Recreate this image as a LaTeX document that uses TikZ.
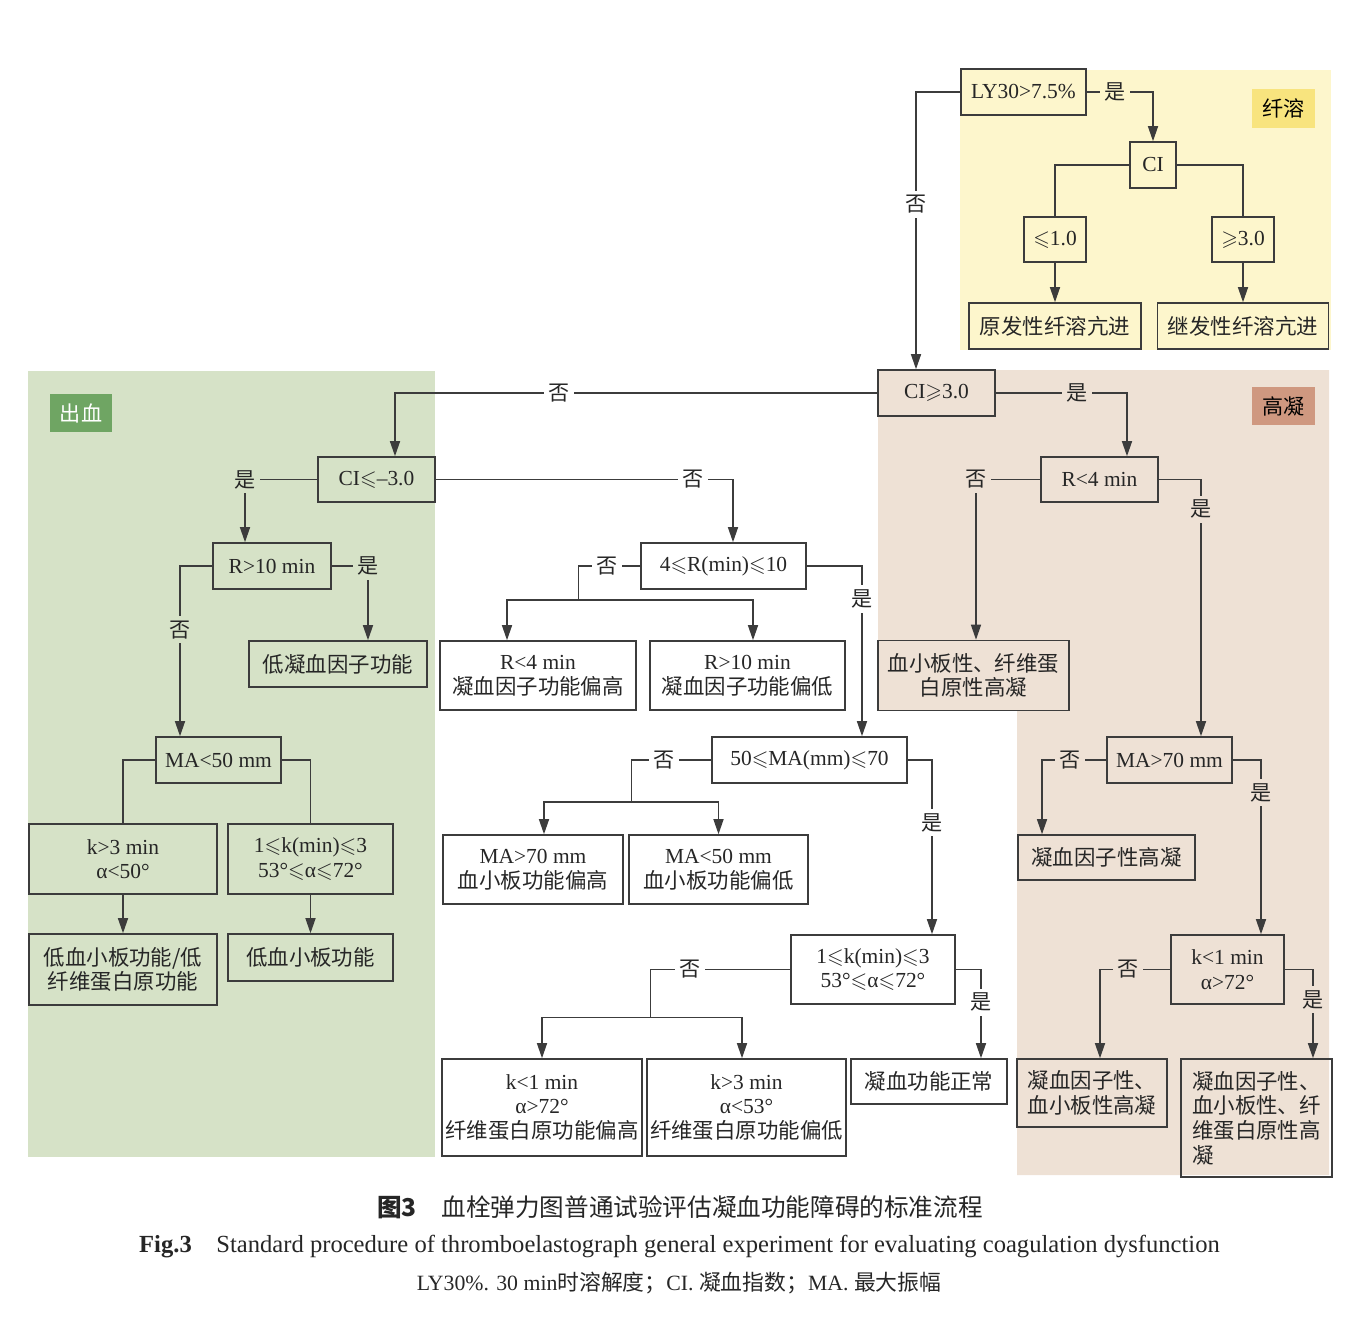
\documentclass[tikz,border=0pt]{standalone}
\usepackage{amssymb}
\usepackage{fontspec}
\setmainfont{Liberation Serif}
\newfontfamily\cjk{Noto Sans CJK SC}
\usetikzlibrary{arrows.meta}

\definecolor{lysisbg}{HTML}{FDF6CC}
\definecolor{lysistag}{HTML}{F8E47E}
\definecolor{bleedbg}{HTML}{D6E2C7}
\definecolor{bleedtag}{HTML}{6FA563}
\definecolor{clotbg}{HTML}{EEE1D5}
\definecolor{clottag}{HTML}{CF9880}
\definecolor{ink}{HTML}{3C3C3C}

\newcommand{\zh}[1]{{\cjk #1}}

\tikzset{
  box/.style 2 args={draw=ink, line width=0.9pt, align=center, inner sep=1pt,
    text=black!85, font=\fontsize{12.2}{14}\selectfont,
    minimum width=#1, minimum height=#2},
  tag/.style={inner sep=0pt, minimum width=1.26cm, minimum height=0.78cm,
    font=\fontsize{12}{14}\selectfont\cjk},
  lbl/.style={fill=#1, inner sep=2.5pt, text=black!85,
    font=\fontsize{12}{14}\selectfont\cjk},
  link/.style={draw=ink, line width=0.8pt},
  arr/.style={link, -{Triangle[length=0.3cm,width=0.2cm]}},
}

\begin{document}
\begin{tikzpicture}[x=0.02cm, y=-0.02cm]
\useasboundingbox (0,0) rectangle (1360,1328);
%
% coloured zones
\fill[lysisbg] (960,70) rectangle (1331,350);
\fill[bleedbg] (28,371) rectangle (435,1157);
\fill[clotbg] (878,370) -- (1329,370) -- (1329,1175) -- (1017,1175)
  -- (1017,710) -- (878,710) -- cycle;
\node[tag, fill=lysistag] (taglysis) at (1283.5,108.5) {纤溶};
\node[tag, fill=bleedtag, text=white] (tagbleed) at (81,413) {出血};
\node[tag, fill=clottag] (tagclot) at (1283.5,406) {高凝};
%
% fibrinolysis
\node[box={2.5cm}{0.92cm}] (ly) at (1023.5,92) {LY30>7.5\%};
\node[box={0.92cm}{0.92cm}] (ci) at (1153,165) {CI};
\node[box={1.24cm}{0.9cm}] (le1) at (1055,239.5) {$\leqslant$1.0};
\node[box={1.24cm}{0.9cm}] (ge3) at (1243,239.5) {$\geqslant$3.0};
\node[box={3.44cm}{0.92cm}] (prim) at (1055,326) {\zh{原发性纤溶亢进}};
\node[box={3.42cm}{0.92cm}] (sec) at (1243,326) {\zh{继发性纤溶亢进}};
%
% first split on CI
\node[box={2.34cm}{0.92cm}] (cige) at (936.5,393) {CI$\geqslant$3.0};
\node[box={2.34cm}{0.9cm}] (cile) at (376.5,479.5) {CI$\leqslant$--3.0};
\node[box={2.34cm}{0.9cm}] (rlt4) at (1099.5,479.5) {R<4 min};
%
% bleeding side
\node[box={2.36cm}{0.92cm}] (rgt10) at (272,566) {R>10 min};
\node[box={3.56cm}{0.92cm}] (lowfac) at (338,664) {\zh{低凝血因子功能}};
\node[box={2.5cm}{0.92cm}] (malt50) at (218.5,760) {MA<50 mm};
\node[box={3.76cm}{1.4cm}] (kslow) at (123,859) {k>3 min\\α<50°};
\node[box={3.3cm}{1.4cm}] (kmidL) at (310.5,859)
  {1$\leqslant$k(min)$\leqslant$3\\53°$\leqslant$α$\leqslant$72°};
\node[box={3.76cm}{1.42cm}] (lowplt2) at (123,969.5)
  {\zh{低血小板功能/低}\\\zh{纤维蛋白原功能}};
\node[box={3.3cm}{0.94cm}] (lowplt) at (310.5,957.5) {\zh{低血小板功能}};
%
% middle column
\node[box={3.3cm}{0.92cm}] (rmid) at (723.5,566) {4$\leqslant$R(min)$\leqslant$10};
\node[box={3.92cm}{1.38cm}] (rlow) at (538,675.5) {R<4 min\\\zh{凝血因子功能偏高}};
\node[box={3.9cm}{1.38cm}] (rhigh) at (747.5,675.5) {R>10 min\\\zh{凝血因子功能偏低}};
\node[box={3.9cm}{0.92cm}] (mamid) at (809.5,760) {50$\leqslant$MA(mm)$\leqslant$70};
\node[box={3.6cm}{1.38cm}] (mahi) at (533,869.5) {MA>70 mm\\\zh{血小板功能偏高}};
\node[box={3.58cm}{1.38cm}] (malo) at (718.5,869.5) {MA<50 mm\\\zh{血小板功能偏低}};
\node[box={3.28cm}{1.38cm}] (kmidM) at (873,969.5)
  {1$\leqslant$k(min)$\leqslant$3\\53°$\leqslant$α$\leqslant$72°};
\node[box={4.0cm}{1.94cm}] (fibhi) at (542,1107.5)
  {k<1 min\\α>72°\\\zh{纤维蛋白原功能偏高}};
\node[box={3.98cm}{1.94cm}] (fiblo) at (746.5,1107.5)
  {k>3 min\\α<53°\\\zh{纤维蛋白原功能偏低}};
\node[box={3.12cm}{0.9cm}] (normal) at (929,1081.5) {\zh{凝血功能正常}};
%
% hypercoagulable side
\node[box={3.82cm}{1.4cm}] (pltfib) at (973.5,675.5)
  {\zh{血小板性、纤维蛋}\\\zh{白原性高凝}};
\node[box={2.5cm}{0.92cm}] (magt70) at (1169.5,760) {MA>70 mm};
\node[box={3.54cm}{0.9cm}] (facthi) at (1106.5,857.5) {\zh{凝血因子性高凝}};
\node[box={2.26cm}{1.38cm}] (kfast) at (1227.5,969.5) {k<1 min\\α>72°};
\node[box={3.0cm}{1.36cm}, align=left] (facplt) at (1092,1093)
  {\zh{凝血因子性、}\\\zh{血小板性高凝}};
\node[box={3.02cm}{2.36cm}, align=left] (allhi) at (1256.5,1118)
  {\zh{凝血因子性、}\\\zh{血小板性、纤}\\\zh{维蛋白原性高}\\\zh{凝}};
%
% connectors
\draw[arr] (ly.west) -| node[lbl=white, pos=0.703] {否} ([xshift=-0.41cm]cige.north);
\draw[arr] (ly.east) -| node[lbl=lysisbg, pos=0.216] {是} (ci.north);
\draw[link] (ci.west) -| (le1.north);
\draw[link] (ci.east) -| (ge3.north);
\draw[arr] (le1) -- (prim);
\draw[arr] (ge3) -- (sec);
%
\draw[arr] (cige.west) -| node[lbl=white, pos=0.33] {否} ([xshift=0.37cm]cile.north);
\draw[arr] (cige.east) -| node[lbl=clotbg, pos=0.31] {是} ([xshift=0.55cm]rlt4.north);
%
\draw[arr] (cile.west) -| node[lbl=bleedbg, pos=0.5] {是} ([xshift=-0.54cm]rgt10.north);
\draw[arr] (cile.east) -| node[lbl=white, pos=0.433] {否} ([xshift=0.19cm]rmid.north);
\draw[arr] (rgt10.east) -| node[lbl=bleedbg, pos=0.5] {是} ([xshift=0.6cm]lowfac.north);
\draw[arr] (rgt10.west) -| node[lbl=bleedbg, pos=0.687] {否} ([xshift=-0.77cm]malt50.north);
\draw[link] (malt50.west) -| (kslow.north);
\draw[link] (malt50.east) -| (kmidL.north);
\draw[arr] (kslow) -- (lowplt2);
\draw[arr] (kmidL) -- (lowplt);
%
\draw[link] (rmid.west) -- node[lbl=white, pos=0.53] {否} ++(-62,0) -- ++(0,34) coordinate (splitr);
\draw[arr] (splitr) -| ([xshift=-0.62cm]rlow.north);
\draw[arr] (splitr) -| ([xshift=0.11cm]rhigh.north);
\draw[arr] (rmid.east) -| node[lbl=white, pos=0.597] {是} ([xshift=1.05cm]mamid.north);
\draw[link] (mamid.west) -- node[lbl=white, pos=0.59] {否} ++(-80,0) -- ++(0,42) coordinate (splitma);
\draw[arr] (splitma) -| ([xshift=0.22cm]mahi.north);
\draw[arr] (splitma) -| (malo.north);
\draw[arr] (mamid.east) -| node[lbl=white, pos=0.68] {是} ([xshift=1.18cm]kmidM.north);
\draw[link] (kmidM.west) -- node[lbl=white, pos=0.714] {否} ++(-140,0) -- ++(0,48) coordinate (splitk);
\draw[arr] (splitk) -| (fibhi.north);
\draw[arr] (splitk) -| ([xshift=-0.09cm]fiblo.north);
\draw[arr] (kmidM.east) -| node[lbl=white, pos=0.685] {是} ([xshift=1.04cm]normal.north);
%
\draw[arr] (rlt4.west) -| node[lbl=clotbg, pos=0.5] {否} ([xshift=0.05cm]pltfib.north);
\draw[arr] (rlt4.east) -| node[lbl=clotbg, pos=0.558] {是} ([xshift=0.63cm]magt70.north);
\draw[arr] (magt70.west) -| node[lbl=clotbg, pos=0.285] {否} ([xshift=-1.29cm]facthi.north);
\draw[arr] (magt70.east) -| node[lbl=clotbg, pos=0.594] {是} ([xshift=0.67cm]kfast.north);
\draw[arr] (kfast.west) -| node[lbl=clotbg, pos=0.3] {否} ([xshift=0.16cm]facplt.north);
\draw[arr] (kfast.east) -| node[lbl=clotbg, pos=0.67] {是} ([xshift=1.13cm]allhi.north);
%
% caption
\node[text=black!85, font=\fontsize{14}{16}\selectfont\cjk] (cap1) at (680,1207)
  {{\bfseries 图3}\quad 血栓弹力图普通试验评估凝血功能障碍的标准流程};
\node[text=black!85, font=\fontsize{14}{16}\selectfont] (cap2) at (679.5,1247)
  {\textbf{Fig.3}\quad Standard procedure of thromboelastograph general experiment for evaluating coagulation dysfunction};
\node[text=black!85, font=\fontsize{12.4}{14}\selectfont] (cap3) at (679,1283)
  {LY30\%. 30 min\zh{时溶解度；}CI. \zh{凝血指数；}MA. \zh{最大振幅}};
\end{tikzpicture}
\end{document}
